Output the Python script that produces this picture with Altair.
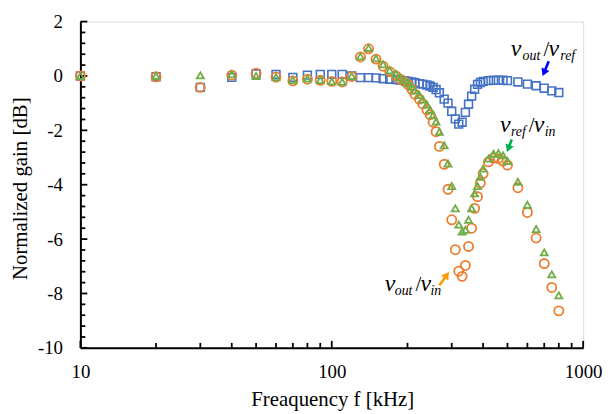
import altair as alt
import pandas as pd

# ---------------- data ----------------
FREQ = [10, 20, 30, 40, 50, 60, 70, 80, 90, 100, 110, 120, 130, 140, 150, 160, 170, 180,
        187, 195, 202, 208, 214, 223, 230, 239, 246, 253, 260, 268, 280, 290, 300, 310,
        320, 330, 340, 350, 360, 370, 380, 390, 400, 420, 440, 460, 480, 500, 550, 600,
        650, 700, 750, 800]

VOUT_VREF = [0.00, -0.03, -0.42, -0.05, 0.08, 0.06, -0.05, 0.03, 0.06, 0.06, 0.06, 0.00,
             -0.06, -0.06, -0.07, -0.10, -0.12, -0.13, -0.15, -0.17, -0.20, -0.22, -0.25,
             -0.28, -0.30, -0.33, -0.37, -0.42, -0.50, -0.62, -0.85, -1.00, -1.30, -1.58,
             -1.77, -1.70, -1.34, -1.04, -0.74, -0.49, -0.31, -0.24, -0.20, -0.17, -0.16,
             -0.16, -0.16, -0.17, -0.22, -0.30, -0.36, -0.45, -0.55, -0.61]

VOUT_VIN = [0.00, -0.03, -0.42, 0.03, 0.10, -0.04, -0.18, -0.12, -0.16, -0.20, -0.22, -0.02,
            0.70, 1.00, 0.62, 0.36, 0.16, 0.00, -0.12, -0.21, -0.33, -0.49, -0.67, -0.85,
            -1.03, -1.25, -1.42, -1.70, -2.05, -2.59, -3.25, -4.17, -5.29, -6.39, -7.18,
            -7.37, -6.97, -6.27, -5.60, -4.87, -4.44, -3.94, -3.59, -3.16, -3.02, -3.04,
            -3.13, -3.28, -4.11, -5.02, -5.96, -6.90, -7.78, -8.64]

VREF_VIN = [0.00, 0.00, 0.02, 0.06, 0.00, -0.04, -0.15, -0.10, -0.15, -0.20, -0.22, 0.00,
            0.72, 1.03, 0.65, 0.43, 0.21, 0.08, -0.06, -0.16, -0.28, -0.40, -0.54, -0.70,
            -0.87, -1.05, -1.25, -1.45, -1.68, -2.05, -2.55, -3.22, -4.05, -4.87, -5.47,
            -5.72, -5.66, -5.29, -4.87, -4.32, -4.05, -3.71, -3.41, -3.04, -2.86, -2.84,
            -2.92, -3.13, -3.89, -4.74, -5.63, -6.49, -7.30, -8.07]

X_LABEL_TICKS = [10, 100, 1000]
X_MINOR_TICKS = [20, 30, 40, 50, 60, 70, 80, 90, 200, 300, 400, 500, 600, 700, 800, 900]
Y_LABEL_TICKS = [-10, -8, -6, -4, -2, 0, 2]
Y_MINOR_TICKS = [v for v in [round(-10 + 0.4 * i, 1) for i in range(31)] if v not in Y_LABEL_TICKS]

# annotation labels: anchor (frequency, gain) of the left baseline, and the texts
ANN_F = [515, 467, 162.5]
ANN_G = [0.72, -2.07, -7.91]
ANN_SUB1 = ["out", "ref", "out"]
ANN_SUB2 = ["ref", "in", "in"]

# arrows: tail and head (frequency, gain)
ARR_TAIL_F = [729.6, 520, 268]
ARR_TAIL_G = [0.54, -2.34, -7.70]
ARR_HEAD_F = [698.6, 503.8, 286.9]
ARR_HEAD_G = [0.12, -2.67, -7.32]
ARR_COLOR = ["#0000FF", "#00B050", "#FF9900"]
ARR_ANGLE = [203, 201, 35]

# ---------------- chart ----------------
FONT = "Liberation Serif"
W, H = 507, 329

df = pd.DataFrame({"f": FREQ, "blue": VOUT_VREF, "orange": VOUT_VIN, "green": VREF_VIN})

xs = alt.Scale(type="log", domain=[10, 1000], nice=False)
ys = alt.Scale(domain=[-10, 2], nice=False, zero=False)

x_main = alt.Axis(orient="bottom", values=X_LABEL_TICKS, ticks=False, tickSize=0, grid=False,
                  domainColor="black", domainWidth=2, labelFont=FONT, labelFontSize=19,
                  labelColor="black", labelPadding=15, labelExpr="'' + datum.value",
                  labelFlush=False, labelOverlap=False, labelBound=False,
                  title="Freaquency f [kHz]", titleFont=FONT, titleFontSize=21,
                  titleFontWeight="normal", titleColor="black", titleX=254, titleY=58,
                  titleBaseline="alphabetic", titleAlign="center")
y_main = alt.Axis(orient="left", values=Y_LABEL_TICKS, ticks=False, tickSize=0, grid=False,
                  domainColor="black", domainWidth=2, labelFont=FONT, labelFontSize=19,
                  labelColor="black", labelPadding=18, labelExpr="'' + datum.value",
                  labelOverlap=False, labelBound=False,
                  title="Normalized gain [dB]", titleFont=FONT, titleFontSize=21,
                  titleFontWeight="normal", titleColor="black", titleX=-60, titleY=168,
                  titleAngle=270, titleBaseline="middle", titleAlign="center")

blue = alt.Chart(df).mark_point(shape="square", filled=False, size=62, strokeWidth=1.6,
                                color="#4472C4", opacity=1).encode(
    x=alt.X("f:Q", scale=xs, axis=x_main),
    y=alt.Y("blue:Q", scale=ys, axis=y_main))
orange = alt.Chart(df).mark_point(shape="circle", filled=False, size=85, strokeWidth=1.8,
                                  color="#ED7D31", opacity=1).encode(
    x=alt.X("f:Q", scale=xs, axis=x_main),
    y=alt.Y("orange:Q", scale=ys, axis=y_main))
green = alt.Chart(df).mark_point(shape="triangle-up", filled=False, size=50, strokeWidth=1.8,
                                 color="#70AD47", opacity=1).encode(
    x=alt.X("f:Q", scale=xs, axis=x_main),
    y=alt.Y("green:Q", scale=ys, axis=y_main))

# inward tick marks (axis decoration), positioned by the scales
def xtick_layer(vals, length):
    d = pd.DataFrame({"t": vals})
    return alt.Chart(d).mark_rule(color="black", strokeWidth=1.8).encode(
        x=alt.X("t:Q", scale=xs, axis=x_main), y=alt.value(H), y2=alt.value(H - length))

def ytick_layer(vals, length):
    d = pd.DataFrame({"t": vals})
    return alt.Chart(d).mark_rule(color="black", strokeWidth=1.8).encode(
        y=alt.Y("t:Q", scale=ys, axis=y_main), x=alt.value(0), x2=alt.value(length))

layers = [blue,
          xtick_layer(X_LABEL_TICKS, 7), xtick_layer(X_MINOR_TICKS, 5),
          ytick_layer(Y_LABEL_TICKS, 7), ytick_layer(Y_MINOR_TICKS, 5),
          orange, green]

# annotation text pieces: (text key, dx per label, dy, size, italic)
OFFS = {
    "v1": [0, 0, 0],
    "s1": [12, 11, 10],
    "sl": [33, 29, 31],
    "v2": [38, 34, 36],
    "s2": [50, 45, 46],
}
for i in range(3):
    pieces = [
        ("v", OFFS["v1"][i], 0, 24, "italic"),
        (ANN_SUB1[i], OFFS["s1"][i], 4, 14, "italic"),
        ("/", OFFS["sl"][i], 0, 21, "normal"),
        ("v", OFFS["v2"][i], 0, 24, "italic"),
        (ANN_SUB2[i], OFFS["s2"][i], 4, 14, "italic"),
    ]
    d = pd.DataFrame({"f": [ANN_F[i]], "g": [ANN_G[i]]})
    for txt, dx, dy, sz, st in pieces:
        layers.append(alt.Chart(d).mark_text(text=txt, dx=dx, dy=dy, fontSize=sz, fontStyle=st,
                                             font=FONT, align="left", baseline="alphabetic",
                                             color="black").encode(
            x=alt.X("f:Q", scale=xs, axis=x_main), y=alt.Y("g:Q", scale=ys, axis=y_main)))

for i in range(3):
    d = pd.DataFrame({"f": [ARR_TAIL_F[i], ARR_HEAD_F[i]], "g": [ARR_TAIL_G[i], ARR_HEAD_G[i]],
                      "o": [0, 1]})
    layers.append(alt.Chart(d).mark_line(color=ARR_COLOR[i], strokeWidth=2.6).encode(
        x=alt.X("f:Q", scale=xs, axis=x_main), y=alt.Y("g:Q", scale=ys, axis=y_main),
        order="o:Q"))
    h = pd.DataFrame({"f": [ARR_HEAD_F[i]], "g": [ARR_HEAD_G[i]]})
    layers.append(alt.Chart(h).mark_point(shape="triangle-up", filled=True, size=75,
                                          angle=ARR_ANGLE[i], color=ARR_COLOR[i], opacity=1,
                                          strokeWidth=0).encode(
        x=alt.X("f:Q", scale=xs, axis=x_main), y=alt.Y("g:Q", scale=ys, axis=y_main)))

chart = alt.layer(*layers).properties(
    width=W, height=H,
    padding={"left": 73, "top": 12, "right": 20, "bottom": 64},
    autosize=alt.AutoSizeParams(type="none"),
).configure_view(stroke=None).configure(background="white")

chart.save("out.html", embed_options={"renderer": "svg", "actions": False})
